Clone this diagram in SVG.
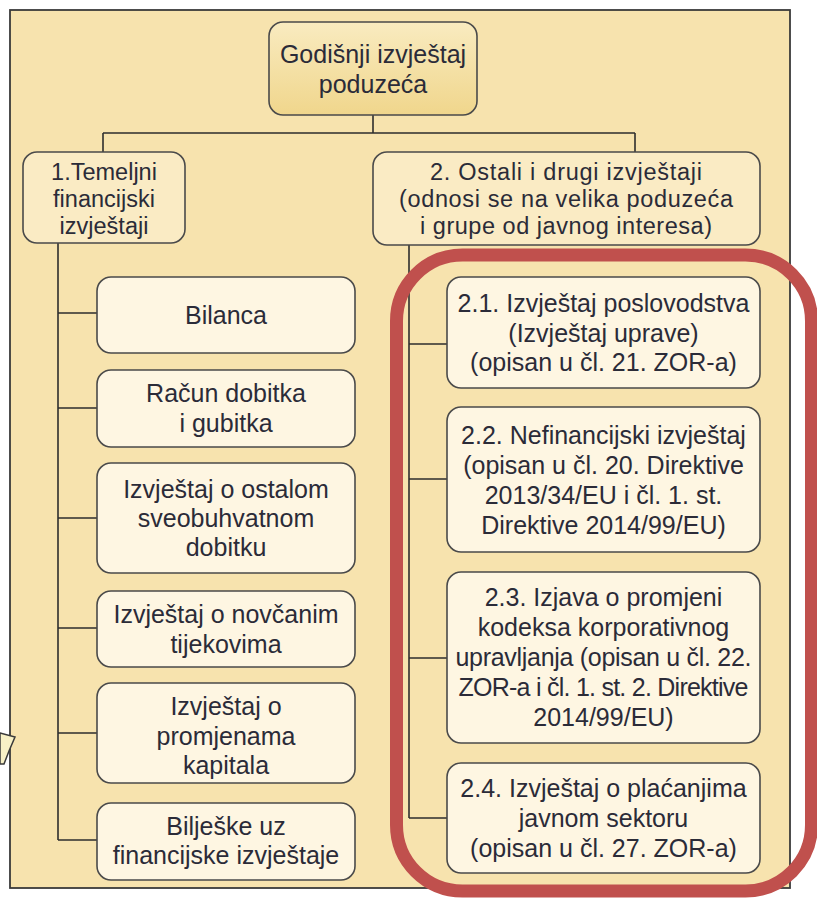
<svg xmlns="http://www.w3.org/2000/svg" width="817" height="899" viewBox="0 0 817 899">
<defs>
<linearGradient id="topg" x1="0" y1="0" x2="0" y2="1">
<stop offset="0" stop-color="#F9EBC0"/>
<stop offset="1" stop-color="#F0D68C"/>
</linearGradient>
<style>
.box{fill:#FEF6E2;stroke:#4A4A4A;stroke-width:1.6}
.mid{fill:#FAEBC4;stroke:#4A4A4A;stroke-width:1.6}
.t{font-family:"Liberation Sans",Arial,sans-serif;font-size:25px;fill:#2B2B38;text-anchor:middle}
.s{font-size:23.5px}
.c{fill:none;stroke:#2E2E2E;stroke-width:1.6}
</style>
</defs>
<rect width="817" height="899" fill="#FFFFFF"/>
<rect x="10" y="10" width="780" height="878" fill="#F7E3AE" stroke="#3A3A3A" stroke-width="1.8"/>
<polygon points="0,733 15,737 9,751 4,764 0,764" fill="#F8F1C6" stroke="#3A3A3A" stroke-width="1.5"/>
<g id="connectors">
<path class="c" d="M373,115 V133 M103,133 H635 M103,133 V152 M635,133 V152"/>
<path class="c" d="M58,243 V840 M58,313 H97 M58,408 H97 M58,518 H97 M58,628 H97 M58,733 H97 M58,840 H97"/>
<path class="c" d="M409,245 V818 M409,344 H447 M409,479 H447 M409,658 H447 M409,818 H447"/>
</g>
<g id="root">
<rect x="269" y="22" width="208" height="93" rx="14" fill="url(#topg)" stroke="#4A4A4A" stroke-width="1.6"/>
<text class="t" x="373" y="63">Godišnji izvještaj</text>
<text class="t" x="373" y="93">poduzeća</text>
</g>
<g id="n1">
<rect class="mid" x="23" y="152" width="162" height="91" rx="14"/>
<text class="t s" x="104" y="180">1.Temeljni</text>
<text class="t s" x="104" y="207">financijski</text>
<text class="t s" x="104" y="234">izvještaji</text>
</g>
<g id="n2">
<rect class="mid" x="373" y="152" width="387" height="93" rx="14"/>
<text class="t s" x="566" y="180" textLength="272" lengthAdjust="spacing">2. Ostali i drugi izvještaji</text>
<text class="t s" x="566" y="207" textLength="334" lengthAdjust="spacing">(odnosi se na velika poduzeća</text>
<text class="t s" x="566" y="234" textLength="292" lengthAdjust="spacing">i grupe od javnog interesa)</text>
</g>
<g id="n1a">
<rect class="box" x="97" y="277" width="258" height="76" rx="14"/>
<text class="t" x="226" y="324">Bilanca</text>
</g>
<g id="n1b">
<rect class="box" x="97" y="370" width="258" height="77" rx="14"/>
<text class="t" x="226" y="402">Račun dobitka</text>
<text class="t" x="226" y="432">i gubitka</text>
</g>
<g id="n1c">
<rect class="box" x="97" y="463" width="258" height="110" rx="14"/>
<text class="t" x="226" y="498">Izvještaj o ostalom</text>
<text class="t" x="226" y="527">sveobuhvatnom</text>
<text class="t" x="226" y="556">dobitku</text>
</g>
<g id="n1d">
<rect class="box" x="97" y="591" width="258" height="76" rx="14"/>
<text class="t" x="226" y="623">Izvještaj o novčanim</text>
<text class="t" x="226" y="653">tijekovima</text>
</g>
<g id="n1e">
<rect class="box" x="97" y="683" width="258" height="100" rx="14"/>
<text class="t" x="226" y="715">Izvještaj o</text>
<text class="t" x="226" y="745">promjenama</text>
<text class="t" x="226" y="774">kapitala</text>
</g>
<g id="n1f">
<rect class="box" x="97" y="803" width="258" height="77" rx="14"/>
<text class="t" x="226" y="835">Bilješke uz</text>
<text class="t" x="226" y="864">financijske izvještaje</text>
</g>
<g id="n21">
<rect class="box" x="447" y="277" width="313" height="111" rx="14"/>
<text class="t" x="603.5" y="312">2.1. Izvještaj poslovodstva</text>
<text class="t" x="603.5" y="342">(Izvještaj uprave)</text>
<text class="t" x="603.5" y="371">(opisan u čl. 21. ZOR-a)</text>
</g>
<g id="n22">
<rect class="box" x="447" y="407" width="313" height="145" rx="14"/>
<text class="t" x="603.5" y="444">2.2. Nefinancijski izvještaj</text>
<text class="t" x="603.5" y="474">(opisan u čl. 20. Direktive</text>
<text class="t" x="603.5" y="504">2013/34/EU i čl. 1. st.</text>
<text class="t" x="603.5" y="534">Direktive 2014/99/EU)</text>
</g>
<g id="n23">
<rect class="box" x="447" y="572" width="313" height="171" rx="14"/>
<text class="t" x="603.5" y="606">2.3. Izjava o promjeni</text>
<text class="t" x="603.5" y="636">kodeksa korporativnog</text>
<text class="t" x="603.5" y="666" textLength="296" lengthAdjust="spacing">upravljanja (opisan u čl. 22.</text>
<text class="t" x="603.5" y="696" textLength="290" lengthAdjust="spacing">ZOR-a i čl. 1. st. 2. Direktive</text>
<text class="t" x="603.5" y="726">2014/99/EU)</text>
</g>
<g id="n24">
<rect class="box" x="447" y="763" width="313" height="110" rx="14"/>
<text class="t" x="603.5" y="797">2.4. Izvještaj o plaćanjima</text>
<text class="t" x="603.5" y="827">javnom sektoru</text>
<text class="t" x="603.5" y="857">(opisan u čl. 27. ZOR-a)</text>
</g>
<g id="highlight">
<rect x="396.5" y="255" width="415" height="636" rx="66" fill="none" stroke="#C0504D" stroke-width="13"/>
</g>
</svg>
